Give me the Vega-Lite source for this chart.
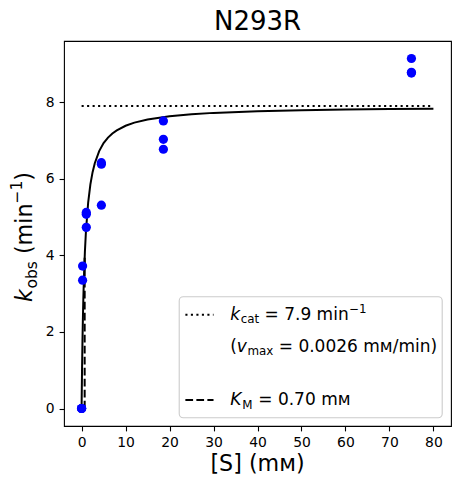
{
  "$schema": "https://vega.github.io/schema/vega-lite/v6.json",
  "width": 387,
  "height": 385,
  "autosize": {"type": "none"},
  "padding": {"left": 64, "top": 41, "right": 9, "bottom": 58},
  "datasets": {
    "curve": [
      {"S": 0, "k": 0}, {"S": 0.02, "k": 0.219}, {"S": 0.05, "k": 0.527}, {"S": 0.1, "k": 0.988},
      {"S": 0.2, "k": 1.756}, {"S": 0.3, "k": 2.37}, {"S": 0.4, "k": 2.873}, {"S": 0.5, "k": 3.292},
      {"S": 0.75, "k": 4.086}, {"S": 1, "k": 4.647}, {"S": 1.5, "k": 5.386}, {"S": 2, "k": 5.852},
      {"S": 2.5, "k": 6.172}, {"S": 3, "k": 6.405}, {"S": 4, "k": 6.723}, {"S": 5, "k": 6.93},
      {"S": 6, "k": 7.075}, {"S": 7, "k": 7.182}, {"S": 8, "k": 7.264}, {"S": 10, "k": 7.383},
      {"S": 12, "k": 7.465}, {"S": 15, "k": 7.548}, {"S": 20, "k": 7.633}, {"S": 25, "k": 7.685},
      {"S": 30, "k": 7.72}, {"S": 40, "k": 7.764}, {"S": 50, "k": 7.791}, {"S": 60, "k": 7.809},
      {"S": 70, "k": 7.822}, {"S": 80, "k": 7.831}
    ],
    "obs": [
      {"S": 0, "k": 0}, {"S": 0, "k": 0}, {"S": 0, "k": 0},
      {"S": 0.23, "k": 3.72}, {"S": 0.23, "k": 3.35},
      {"S": 1.07, "k": 5.12}, {"S": 1.07, "k": 5.07}, {"S": 1.07, "k": 4.73},
      {"S": 4.5, "k": 6.42}, {"S": 4.5, "k": 6.38}, {"S": 4.5, "k": 5.31},
      {"S": 18.6, "k": 7.51}, {"S": 18.6, "k": 7.03}, {"S": 18.6, "k": 6.77},
      {"S": 75, "k": 9.14}, {"S": 75, "k": 8.78}, {"S": 75, "k": 8.76}
    ],
    "one": [{}]
  },
  "layer": [
    {
      "data": {"name": "curve"},
      "mark": {"type": "line", "color": "black", "strokeWidth": 2},
      "encoding": {
        "x": {"field": "S", "type": "quantitative", "title": null, "scale": {"domain": [-4, 84], "nice": false, "zero": false}},
        "y": {"field": "k", "type": "quantitative", "title": null, "scale": {"domain": [-0.457, 9.597], "nice": false, "zero": false}}
      }
    },
    {
      "data": {"name": "one"},
      "mark": {"type": "rule", "color": "black", "strokeWidth": 2, "strokeDash": [2.1, 3.4]},
      "encoding": {
        "x": {"datum": 0, "type": "quantitative", "title": null},
        "x2": {"datum": 80},
        "y": {"datum": 7.9, "type": "quantitative", "title": null}
      }
    },
    {
      "data": {"name": "one"},
      "mark": {"type": "rule", "color": "black", "strokeWidth": 2, "strokeDash": [7.7, 3.3]},
      "encoding": {
        "x": {"datum": 0.7, "type": "quantitative", "title": null},
        "y": {"datum": 0, "type": "quantitative", "title": null},
        "y2": {"datum": 3.95}
      }
    },
    {
      "data": {"name": "obs"},
      "mark": {"type": "point", "shape": "circle", "filled": true, "color": "#0000ff", "opacity": 1, "size": 85},
      "encoding": {
        "x": {"field": "S", "type": "quantitative", "title": null, "axis": {"values": [0, 10, 20, 30, 40, 50, 60, 70, 80]}},
        "y": {"field": "k", "type": "quantitative", "title": null, "axis": {"values": [0, 2, 4, 6, 8]}}
      }
    },
    {
      "data": {"name": "one"},
      "mark": {"type": "rect", "fill": "white", "fillOpacity": 0.8, "stroke": "#cccccc", "strokeWidth": 1.1, "cornerRadius": 4},
      "encoding": {
        "x": {"datum": 22.2, "type": "quantitative", "title": null},
        "x2": {"datum": 82.0},
        "y": {"datum": -0.24, "type": "quantitative", "title": null},
        "y2": {"datum": 2.92}
      }
    },
    {
      "data": {"name": "one"},
      "mark": {"type": "rule", "color": "black", "strokeWidth": 2, "strokeDash": [2.1, 3.4]},
      "encoding": {
        "x": {"datum": 23.6, "type": "quantitative", "title": null},
        "x2": {"datum": 30.0},
        "y": {"datum": 2.447, "type": "quantitative", "title": null}
      }
    },
    {
      "data": {"name": "one"},
      "mark": {"type": "rule", "color": "black", "strokeWidth": 2, "strokeDash": [7.7, 3.3]},
      "encoding": {
        "x": {"datum": 23.6, "type": "quantitative", "title": null},
        "x2": {"datum": 30.0},
        "y": {"datum": 0.22, "type": "quantitative", "title": null}
      }
    },
    {
      "data": {"name": "one"},
      "mark": {"type": "text", "text": "k", "font": "DejaVu Sans", "fontStyle": "italic", "fontSize": 17, "align": "left", "baseline": "alphabetic", "color": "black"},
      "encoding": {"x": {"datum": 33.8, "type": "quantitative", "title": null}, "y": {"datum": 2.316, "type": "quantitative", "title": null}}
    },
    {
      "data": {"name": "one"},
      "mark": {"type": "text", "text": "cat", "font": "DejaVu Sans", "fontSize": 11.9, "align": "left", "baseline": "alphabetic", "dx": 10.5, "dy": 3.5, "color": "black"},
      "encoding": {"x": {"datum": 33.8, "type": "quantitative", "title": null}, "y": {"datum": 2.316, "type": "quantitative", "title": null}}
    },
    {
      "data": {"name": "one"},
      "mark": {"type": "text", "text": "= 7.9 min", "font": "DejaVu Sans", "fontSize": 17, "align": "left", "baseline": "alphabetic", "dx": 34.3, "color": "black"},
      "encoding": {"x": {"datum": 33.8, "type": "quantitative", "title": null}, "y": {"datum": 2.316, "type": "quantitative", "title": null}}
    },
    {
      "data": {"name": "one"},
      "mark": {"type": "text", "text": "−1", "font": "DejaVu Sans", "fontSize": 11.9, "align": "left", "baseline": "alphabetic", "dx": 118.9, "dy": -7, "color": "black"},
      "encoding": {"x": {"datum": 33.8, "type": "quantitative", "title": null}, "y": {"datum": 2.316, "type": "quantitative", "title": null}}
    },
    {
      "data": {"name": "one"},
      "mark": {"type": "text", "text": "(", "font": "DejaVu Sans", "fontSize": 17, "align": "left", "baseline": "alphabetic", "color": "black"},
      "encoding": {"x": {"datum": 33.8, "type": "quantitative", "title": null}, "y": {"datum": 1.481, "type": "quantitative", "title": null}}
    },
    {
      "data": {"name": "one"},
      "mark": {"type": "text", "text": "v", "font": "DejaVu Sans", "fontStyle": "italic", "fontSize": 17, "align": "left", "baseline": "alphabetic", "dx": 6.6, "color": "black"},
      "encoding": {"x": {"datum": 33.8, "type": "quantitative", "title": null}, "y": {"datum": 1.481, "type": "quantitative", "title": null}}
    },
    {
      "data": {"name": "one"},
      "mark": {"type": "text", "text": "max", "font": "DejaVu Sans", "fontSize": 11.9, "align": "left", "baseline": "alphabetic", "dx": 17.2, "dy": 3.5, "color": "black"},
      "encoding": {"x": {"datum": 33.8, "type": "quantitative", "title": null}, "y": {"datum": 1.481, "type": "quantitative", "title": null}}
    },
    {
      "data": {"name": "one"},
      "mark": {"type": "text", "text": "= 0.0026 mм/min)", "font": "DejaVu Sans", "fontSize": 17, "align": "left", "baseline": "alphabetic", "dx": 48.5, "color": "black"},
      "encoding": {"x": {"datum": 33.8, "type": "quantitative", "title": null}, "y": {"datum": 1.481, "type": "quantitative", "title": null}}
    },
    {
      "data": {"name": "one"},
      "mark": {"type": "text", "text": "K", "font": "DejaVu Sans", "fontStyle": "italic", "fontSize": 17, "align": "left", "baseline": "alphabetic", "color": "black"},
      "encoding": {"x": {"datum": 33.8, "type": "quantitative", "title": null}, "y": {"datum": 0.09, "type": "quantitative", "title": null}}
    },
    {
      "data": {"name": "one"},
      "mark": {"type": "text", "text": "M", "font": "DejaVu Sans", "fontSize": 11.9, "align": "left", "baseline": "alphabetic", "dx": 12, "dy": 3.5, "color": "black"},
      "encoding": {"x": {"datum": 33.8, "type": "quantitative", "title": null}, "y": {"datum": 0.09, "type": "quantitative", "title": null}}
    },
    {
      "data": {"name": "one"},
      "mark": {"type": "text", "text": "= 0.70 mм", "font": "DejaVu Sans", "fontSize": 17, "align": "left", "baseline": "alphabetic", "dx": 28, "color": "black"},
      "encoding": {"x": {"datum": 33.8, "type": "quantitative", "title": null}, "y": {"datum": 0.09, "type": "quantitative", "title": null}}
    },
    {
      "data": {"name": "one"},
      "mark": {"type": "text", "text": "N293R", "font": "DejaVu Sans", "fontSize": 26, "align": "center", "baseline": "alphabetic", "color": "black"},
      "encoding": {"x": {"datum": 40, "type": "quantitative", "title": null}, "y": {"datum": 9.885, "type": "quantitative", "title": null}}
    },
    {
      "data": {"name": "one"},
      "mark": {"type": "text", "text": "[S] (mм)", "font": "DejaVu Sans", "fontSize": 22.2, "align": "center", "baseline": "alphabetic", "color": "black"},
      "encoding": {"x": {"datum": 40, "type": "quantitative", "title": null}, "y": {"datum": -1.63, "type": "quantitative", "title": null}}
    },
    {
      "data": {"name": "one"},
      "mark": {"type": "text", "text": "k", "font": "DejaVu Sans", "fontStyle": "italic", "fontSize": 22.2, "angle": 270, "align": "left", "baseline": "alphabetic", "color": "black"},
      "encoding": {"x": {"datum": -11.2, "type": "quantitative", "title": null}, "y": {"datum": 2.78, "type": "quantitative", "title": null}}
    },
    {
      "data": {"name": "one"},
      "mark": {"type": "text", "text": "obs", "font": "DejaVu Sans", "fontSize": 15.5, "angle": 270, "align": "left", "baseline": "alphabetic", "dx": 13.5, "dy": 4.5, "color": "black"},
      "encoding": {"x": {"datum": -11.2, "type": "quantitative", "title": null}, "y": {"datum": 2.78, "type": "quantitative", "title": null}}
    },
    {
      "data": {"name": "one"},
      "mark": {"type": "text", "text": "(min", "font": "DejaVu Sans", "fontSize": 22.2, "angle": 270, "align": "left", "baseline": "alphabetic", "dx": 48, "color": "black"},
      "encoding": {"x": {"datum": -11.2, "type": "quantitative", "title": null}, "y": {"datum": 2.78, "type": "quantitative", "title": null}}
    },
    {
      "data": {"name": "one"},
      "mark": {"type": "text", "text": "−1", "font": "DejaVu Sans", "fontSize": 15.5, "angle": 270, "align": "left", "baseline": "alphabetic", "dx": 98.5, "dy": -10, "color": "black"},
      "encoding": {"x": {"datum": -11.2, "type": "quantitative", "title": null}, "y": {"datum": 2.78, "type": "quantitative", "title": null}}
    },
    {
      "data": {"name": "one"},
      "mark": {"type": "text", "text": ")", "font": "DejaVu Sans", "fontSize": 22.2, "angle": 270, "align": "left", "baseline": "alphabetic", "dx": 121.4, "color": "black"},
      "encoding": {"x": {"datum": -11.2, "type": "quantitative", "title": null}, "y": {"datum": 2.78, "type": "quantitative", "title": null}}
    }
  ],
  "config": {
    "view": {"stroke": "black", "strokeWidth": 1.1},
    "axis": {
      "grid": false, "domain": false, "tickColor": "black", "tickSize": 4.9, "tickWidth": 1.1,
      "labelFont": "DejaVu Sans", "labelFontSize": 13.9, "labelColor": "black", "labelPadding": 4.9,
      "labelFlush": false, "labelOverlap": false
    }
  }
}
